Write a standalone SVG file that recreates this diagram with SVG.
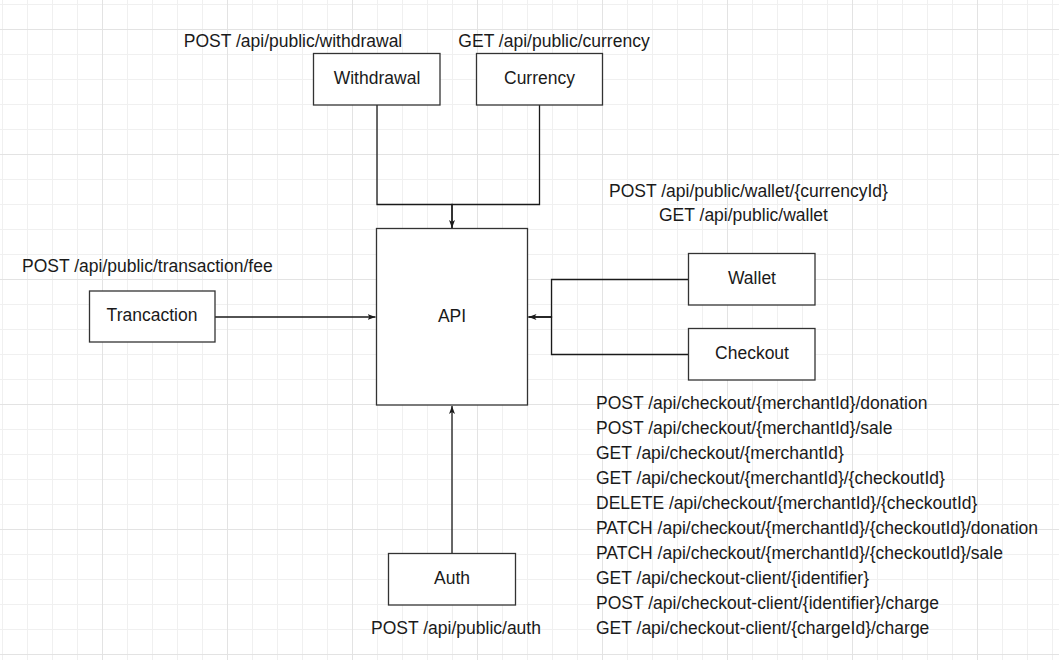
<svg xmlns="http://www.w3.org/2000/svg" width="1059" height="660" viewBox="0 0 1059 660">
  <style>
    .node { fill: #ffffff; stroke: #333333; stroke-width: 1.3; }
    .edge { fill: none; stroke: #1a1a1a; stroke-width: 1.3; }
    .label { font-family: "Liberation Sans", Arial, sans-serif; font-size: 17.5px; fill: #1a1a1a; }
    .mid { text-anchor: middle; }
  </style>
  <defs>
    <!-- background grid: 25px cells, heavier line every 5 cells -->
    <pattern id="grid" patternUnits="userSpaceOnUse" x="102" y="29" width="125" height="125">
      <rect width="125" height="125" fill="#ffffff"/>
      <g fill="#f0f0f0">
        <rect x="25" y="0" width="1" height="125"/>
        <rect x="50" y="0" width="1" height="125"/>
        <rect x="75" y="0" width="1" height="125"/>
        <rect x="100" y="0" width="1" height="125"/>
        <rect x="0" y="25" width="125" height="1"/>
        <rect x="0" y="50" width="125" height="1"/>
        <rect x="0" y="75" width="125" height="1"/>
        <rect x="0" y="100" width="125" height="1"/>
      </g>
      <g fill="#e3e3e3">
        <rect x="0" y="0" width="1" height="125"/>
        <rect x="0" y="0" width="125" height="1"/>
      </g>
    </pattern>
    <marker id="arrow" markerUnits="userSpaceOnUse" markerWidth="10" markerHeight="8" refX="8" refY="3" orient="auto">
      <path d="M0,0 L8,3 L0,6 L2,3 z" fill="#1a1a1a"/>
    </marker>
  </defs>

  <rect width="1059" height="660" fill="url(#grid)"/>

  <!-- connectors -->
  <g id="connectors">
    <path class="edge" d="M377,105 V204.5 H452 V228" marker-end="url(#arrow)"/>
    <path class="edge" d="M539.5,105 V204.5 H452 V228"/>
    <path class="edge" d="M215,317 H375.5" marker-end="url(#arrow)"/>
    <path class="edge" d="M688.5,279.5 H551.5 V317 H528.5" marker-end="url(#arrow)"/>
    <path class="edge" d="M688.5,354.5 H551.5 V317 H528.5"/>
    <path class="edge" d="M452,553 V406" marker-end="url(#arrow)"/>
  </g>

  <!-- nodes -->
  <g id="withdrawal">
    <rect class="node" x="313.5" y="53.5" width="126.5" height="51.5"/>
    <text class="label mid" x="377" y="83.5">Withdrawal</text>
  </g>
  <g id="currency">
    <rect class="node" x="476.5" y="53.5" width="126" height="51.5"/>
    <text class="label mid" x="539.5" y="83.5">Currency</text>
  </g>
  <g id="api">
    <rect class="node" x="376.5" y="228.5" width="151" height="176.5"/>
    <text class="label mid" x="452" y="322">API</text>
  </g>
  <g id="trancaction">
    <rect class="node" x="89.5" y="291" width="125.5" height="51"/>
    <text class="label mid" x="152" y="321">Trancaction</text>
  </g>
  <g id="wallet">
    <rect class="node" x="688.5" y="253.5" width="126.5" height="51.5"/>
    <text class="label mid" x="752" y="283.5">Wallet</text>
  </g>
  <g id="checkout">
    <rect class="node" x="688.5" y="328.5" width="126.5" height="51.5"/>
    <text class="label mid" x="752" y="358.5">Checkout</text>
  </g>
  <g id="auth">
    <rect class="node" x="388.5" y="553.5" width="127" height="51.5"/>
    <text class="label mid" x="452" y="583.5">Auth</text>
  </g>

  <!-- endpoint annotations -->
  <g id="endpoints">
    <text class="label mid" x="293" y="47">POST /api/public/withdrawal</text>
    <text class="label mid" x="554" y="47">GET /api/public/currency</text>
    <text class="label" x="609" y="197">POST /api/public/wallet/{currencyId}</text>
    <text class="label" x="659" y="221">GET /api/public/wallet</text>
    <text class="label" x="22" y="272">POST /api/public/transaction/fee</text>
    <text class="label mid" x="456" y="634">POST /api/public/auth</text>
    <text class="label" x="596" y="409">POST /api/checkout/{merchantId}/donation</text>
    <text class="label" x="596" y="434">POST /api/checkout/{merchantId}/sale</text>
    <text class="label" x="596" y="459">GET /api/checkout/{merchantId}</text>
    <text class="label" x="596" y="484">GET /api/checkout/{merchantId}/{checkoutId}</text>
    <text class="label" x="596" y="509">DELETE /api/checkout/{merchantId}/{checkoutId}</text>
    <text class="label" x="596" y="534">PATCH /api/checkout/{merchantId}/{checkoutId}/donation</text>
    <text class="label" x="596" y="559">PATCH /api/checkout/{merchantId}/{checkoutId}/sale</text>
    <text class="label" x="596" y="584">GET /api/checkout-client/{identifier}</text>
    <text class="label" x="596" y="609">POST /api/checkout-client/{identifier}/charge</text>
    <text class="label" x="596" y="634">GET /api/checkout-client/{chargeId}/charge</text>
  </g>
</svg>
